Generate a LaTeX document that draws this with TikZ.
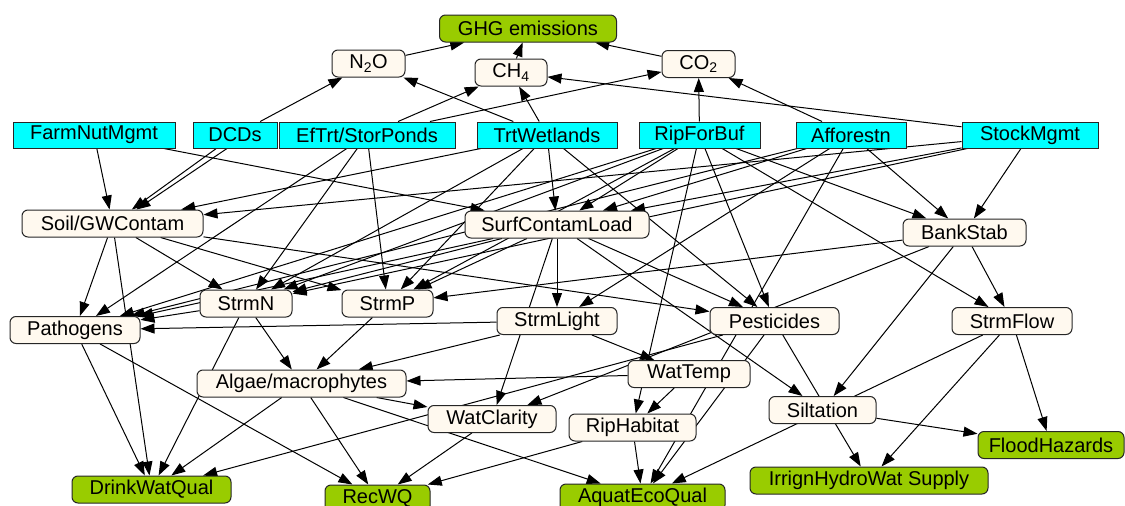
\documentclass[tikz,border=0pt]{standalone}
\usepackage{fontspec}
\setmainfont{Liberation Sans}
\usetikzlibrary{arrows.meta}
\definecolor{floral}{HTML}{FFF9EF}
\definecolor{leaf}{HTML}{99CC00}
\definecolor{aqua}{HTML}{00FFFF}
\pgfdeclarelayer{bg}
\pgfsetlayers{bg,main}
\tikzset{
  base/.style={draw=black!85, line width=1pt, inner sep=0pt, minimum height=27pt,
               font=\fontsize{20}{24}\selectfont},
  mgmt/.style={base, rectangle, fill=aqua, minimum height=26pt},
  mid/.style={base, rounded corners=6pt, fill=floral},
  outc/.style={base, rounded corners=6pt, fill=leaf},
  link/.style={-{Triangle[length=14pt,width=10pt]}, line width=1pt, black},
}
\begin{document}
\begin{tikzpicture}[x=1pt,y=-1pt]
\useasboundingbox (0,0) rectangle (1125,506);
% top
\node[outc, minimum width=177pt] (ghg) at (528,28.5) {GHG emissions};
\node[mid, minimum width=73pt] (n2o) at (368.5,63.5) {N\textsubscript{2}O};
\node[mid, minimum width=72pt] (ch4) at (511,72.5) {CH\textsubscript{4}};
\node[mid, minimum width=73pt] (co2) at (698.5,64) {CO\textsubscript{2}};
% management
\node[mgmt, minimum width=162pt] (farm) at (94,135) {FarmNutMgmt};
\node[mgmt, minimum width=84pt] (dcds) at (235,135) {DCDs};
\node[mgmt, minimum width=176pt] (eft) at (367,135) {EfTrt/StorPonds};
\node[mgmt, minimum width=140pt] (trtw) at (547,135) {TrtWetlands};
\node[mgmt, minimum width=121pt] (rfb) at (699.5,135) {RipForBuf};
\node[mgmt, minimum width=110pt] (aff) at (851,135) {Afforestn};
\node[mgmt, minimum width=136pt] (stock) at (1030,135) {StockMgmt};
% intermediate
\node[mid, minimum width=181pt] (soil) at (112.5,223.5) {Soil/GWContam};
\node[mid, minimum width=184pt] (surf) at (557,224.5) {SurfContamLoad};
\node[mid, minimum width=123pt] (bank) at (964.5,232.5) {BankStab};
\node[mid, minimum width=92pt] (strmn) at (246,303.5) {StrmN};
\node[mid, minimum width=91pt] (strmp) at (387.5,303.5) {StrmP};
\node[mid, minimum width=130pt] (path) at (75,330) {Pathogens};
\node[mid, minimum width=120pt] (light) at (557,321) {StrmLight};
\node[mid, minimum width=129pt] (pest) at (774.5,321) {Pesticides};
\node[mid, minimum width=120pt] (flow) at (1012,321) {StrmFlow};
\node[mid, minimum width=209pt] (algae) at (301.5,383.5) {Algae/macrophytes};
\node[mid, minimum width=122pt] (temp) at (689,374) {WatTemp};
\node[mid, minimum width=128pt] (clar) at (492,419) {WatClarity};
\node[mid, minimum width=127pt] (rip) at (632.5,427.5) {RipHabitat};
\node[mid, minimum width=107pt] (silt) at (822.5,410) {Siltation};
% outcomes
\node[outc, minimum width=146pt] (flood) at (1051,445) {FloodHazards};
\node[outc, minimum width=238pt] (irr) at (869,480.5) {IrrignHydroWat Supply};
\node[outc, minimum width=159pt] (drink) at (151.5,489.5) {DrinkWatQual};
\node[outc, minimum width=105pt] (rec) at (377.5,498.5) {RecWQ};
\node[outc, minimum width=165pt] (aquat) at (642.5,497.5) {AquatEcoQual};

\begin{pgfonlayer}{bg}
% greenhouse gases
\draw[link] (n2o) -- (ghg);
\draw[link] (ch4) -- (ghg);
\draw[link] (co2) -- (ghg);
\draw[link] (dcds) -- (n2o);
\draw[link] (trtw) -- (n2o);
\draw[link] (eft) -- (ch4);
\draw[link] (eft) -- (co2);
\draw[link] (trtw) -- (ch4);
\draw[link] (rfb) -- (co2);
\draw[link] (aff) -- (co2);
\draw[link] (stock) -- (ch4);
% management links
\draw[link] (farm) -- (soil);
\draw[link] (farm) -- (surf);
\draw[link] (dcds) -- (soil);
\draw[link] ([xshift=-8pt]dcds.south) -- ([xshift=24pt]soil.north);
\draw[link] (eft) -- (path);
\draw[link] (eft) -- (strmn);
\draw[link] (eft) -- (strmp);
\draw[link] (trtw) -- (soil);
\draw[link] (trtw) -- (surf);
\draw[link] (trtw) -- (pest);
\draw[link] (trtw) -- (strmn);
\draw[link] (trtw) -- (strmp);
\draw[link] (rfb) -- (surf);
\draw[link] (rfb) -- (path);
\draw[link] (rfb) -- (strmn);
\draw[link] (rfb) -- (strmp);
\draw[link] (rfb) -- (pest);
\draw[link] (rfb) -- (bank);
\draw[link] (rfb) -- (flow);
\draw[link] (rfb) -- (rip);
\draw[link] (aff) -- (surf);
\draw[link] (aff) -- (light);
\draw[link] (aff) -- (bank);
\draw[link] (aff) -- (path);
\draw[link] (aff) -- (aquat);
\draw[link] (stock) -- (soil);
\draw[link] (stock) -- (surf);
\draw[link] (stock) -- (bank);
\draw[link] (stock) -- (strmn);
% intermediate links
\draw[link] (soil) -- (path);
\draw[link] (soil) -- (strmn);
\draw[link] (soil) -- (strmp);
\draw[link] (soil) -- (pest);
\draw[link] (soil) -- (drink);
\draw[link] (surf) -- (strmn);
\draw[link] (surf) -- (strmp);
\draw[link] (surf) -- (path);
\draw[link] (surf) -- (light);
\draw[link] (surf) -- (pest);
\draw[link] (surf) -- (silt);
\draw[link] (surf) -- (clar);
\draw[link] (bank) -- (strmp);
\draw[link] (bank) -- (clar);
\draw[link] (bank) -- (silt);
\draw[link] (bank) -- (flow);
\draw[link] (strmn) -- (path);
\draw[link] (strmn) -- (algae);
\draw[link] (strmn) -- (drink);
\draw[link] (strmp) -- (algae);
\draw[link] (path) -- (drink);
\draw[link] (path) -- (rec);
\draw[link] (light) -- (path);
\draw[link] (light) -- (algae);
\draw[link] (light) -- (temp);
\draw[link] (pest) -- (drink);
\draw[link] (pest) -- (aquat);
\draw[link] (pest) -- (irr);
\draw[link] (flow) -- (flood);
\draw[link] (flow) -- (irr);
\draw[link] (flow) -- (aquat);
\draw[link] (algae) -- (drink);
\draw[link] (algae) -- (rec);
\draw[link] (algae) -- (aquat);
\draw[link] (algae) -- (clar);
\draw[link] (temp) -- (algae);
\draw[link] (temp) -- (rip);
\draw[link] (clar) -- (rec);
\draw[link] (rip) -- (rec);
\draw[link] (rip) -- (aquat);
\draw[link] (silt) -- (flood);
\end{pgfonlayer}
\end{tikzpicture}
\end{document}
